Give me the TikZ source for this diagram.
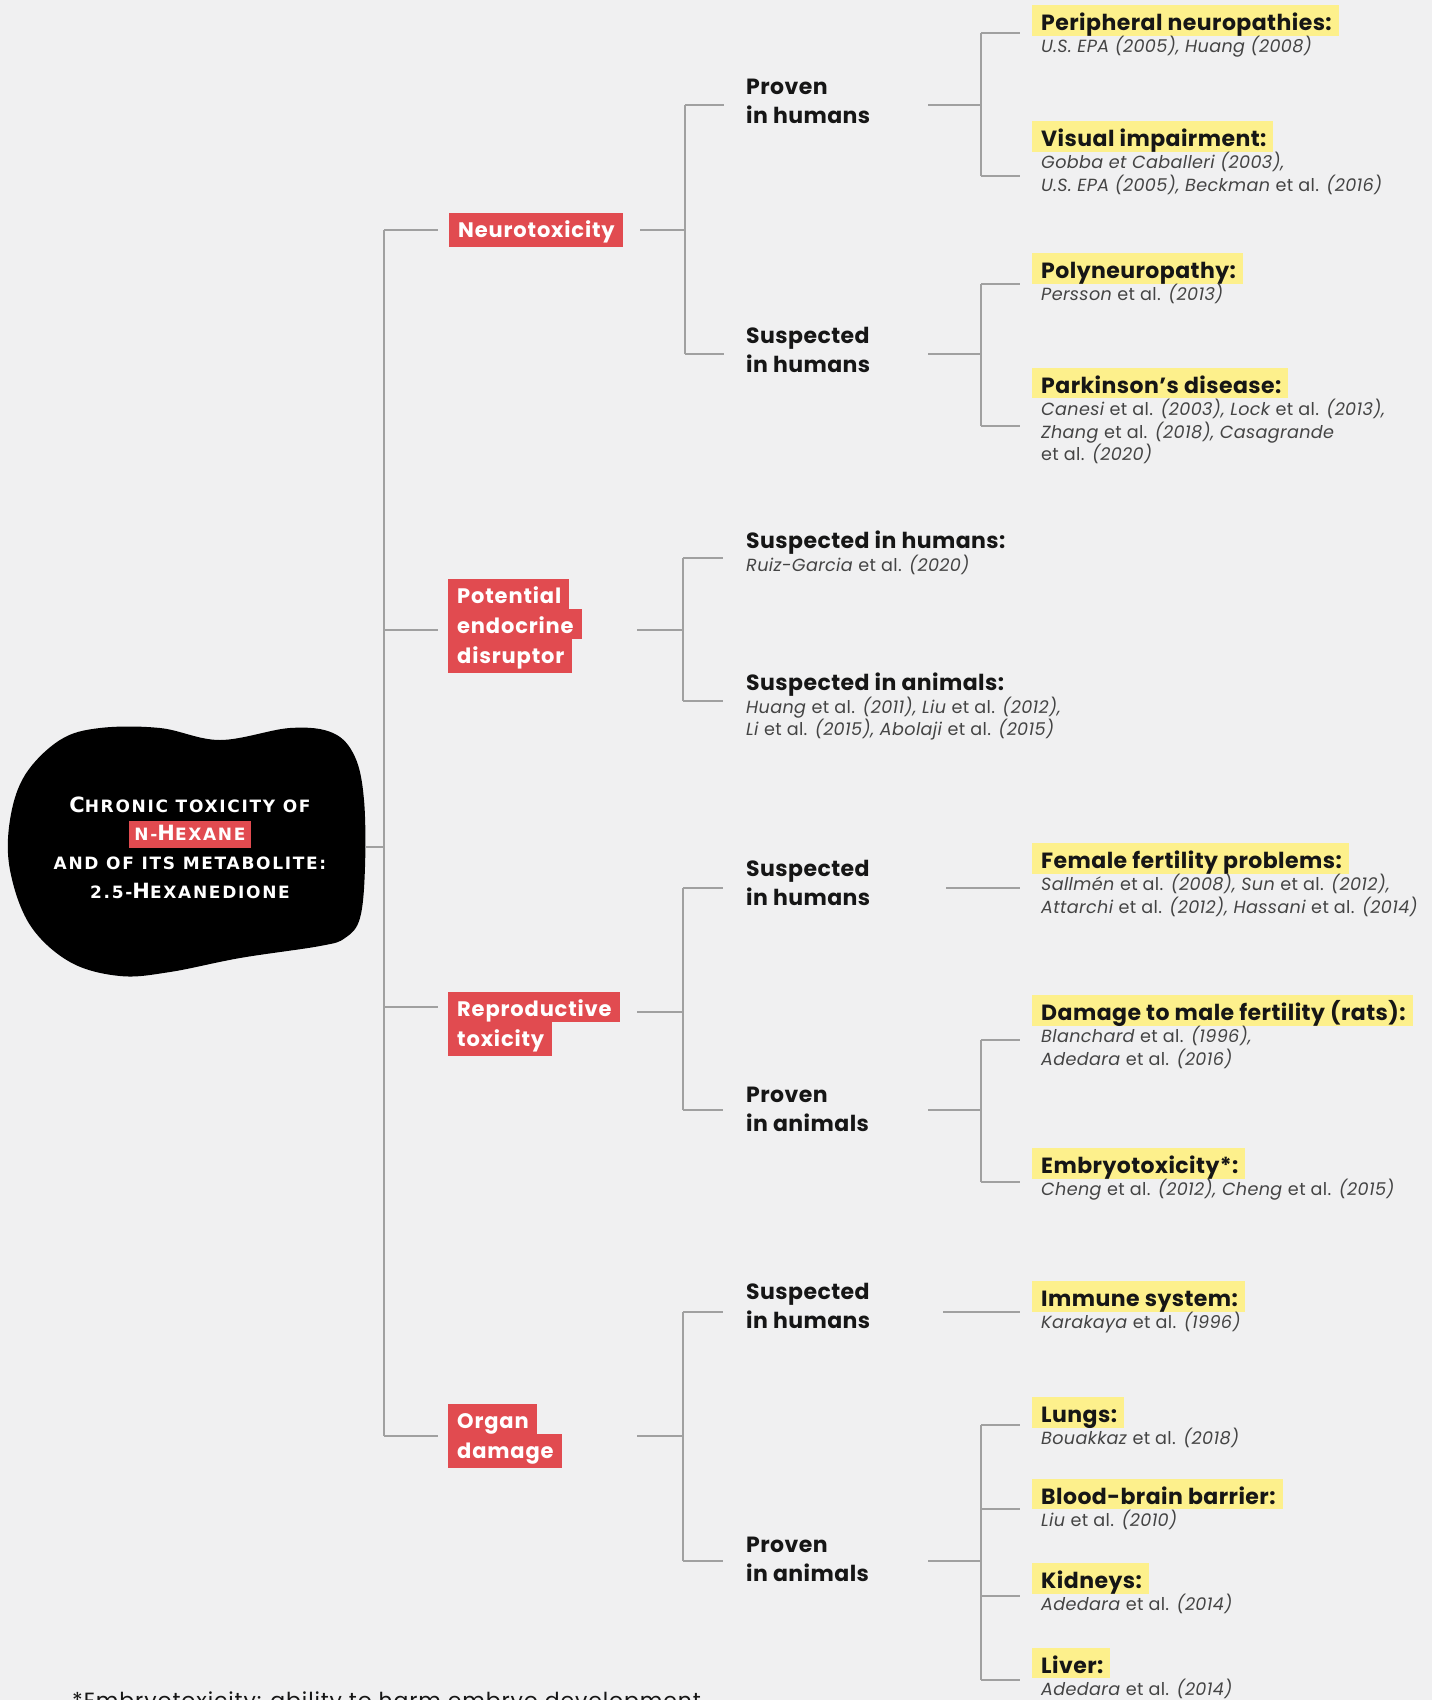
\documentclass[tikz,border=0pt]{standalone}
\usepackage{fontspec}
\setmainfont{Poppins}[LetterSpace=2]
\newfontfamily\blobfont{DejaVu Sans}[LetterSpace=10]

\definecolor{pagebg}{RGB}{240,240,241}
\definecolor{catred}{RGB}{225,75,80}
\definecolor{hlyellow}{RGB}{253,240,140}
\definecolor{linegray}{RGB}{160,160,160}
\definecolor{inkblack}{RGB}{22,22,22}
\definecolor{citegray}{RGB}{68,68,68}

\setlength{\fboxsep}{0pt}

% red category rows, stacked without gaps
\newcommand\catrow[1]{\colorbox{catred}{\rule[-6pt]{0pt}{30pt}\hspace{9pt}#1\hspace{8pt}}}
\newcommand\catend[1]{\colorbox{catred}{\rule[-10pt]{0pt}{34pt}\hspace{9pt}#1\hspace{8pt}}}
% yellow highlighted effect titles
\newcommand\hlt[1]{\colorbox{hlyellow}{\rule[-5pt]{0pt}{30pt}\hspace{9pt}\bfseries #1\hspace{7pt}}}
\newcommand\plaintitle[1]{\rule[-5pt]{0pt}{30pt}{\bfseries #1}}
% references (plain, and indented under a highlighted title)
\newcommand\refs[1]{{\color{citegray}\fontsize{17.6}{22.5}\selectfont\itshape #1}}
\newcommand\lrefs[1]{\hspace*{9pt}\refs{#1}}
\newcommand\etal{{\upshape et al.}}
\newcommand\topstrut{\rule{0pt}{20pt}}
% hand-made small capitals for the central title
\newcommand\smc[1]{{\fontsize{17}{28.7}\selectfont #1}}

\tikzset{
  link/.style={draw=linegray, line width=1.4pt},
  cat/.style={anchor=north west, inner sep=0pt, align=left, text=white,
    font=\bfseries\fontsize{21}{30}\selectfont\addfontfeature{LetterSpace=4}},
  midlabel/.style={anchor=north west, inner sep=0pt, align=left, text=inkblack,
    font=\bfseries\fontsize{22}{28.5}\selectfont},
  leaf/.style={anchor=north west, inner sep=0pt, align=left, text=inkblack,
    font=\fontsize{22}{22.5}\selectfont},
  blobtext/.style={anchor=north, inner sep=0pt, align=center, text=white,
    font=\blobfont\bfseries\fontsize{21}{28.7}\selectfont},
}

\begin{document}
\begin{tikzpicture}[x=1pt,y=-1pt]
\useasboundingbox (0,0) rectangle (1432,1700);
\clip (0,0) rectangle (1432,1700);
\fill[pagebg] (0,0) rectangle (1432,1700);

% central blob
\fill[black] plot[smooth cycle, tension=0.6] coordinates {
  (60,740) (100,728) (160,728) (220,740) (290,728) (333,733) (355,757)
  (364,800) (365,867) (360,918) (345,938) (320,946) (240,958) (170,972)
  (120,976) (70,962) (30,925) (10,870) (10,820) (25,775)};
\node[blobtext] (root) at (190,792) {\topstrut C\smc{HRONIC TOXICITY OF}\\
  \colorbox{catred}{\rule[-7pt]{0pt}{27pt}\hspace{5pt}\smc{N-}H\smc{EXANE}\hspace{5pt}}\\
  \smc{AND OF ITS METABOLITE:}\\
  \smc{2.5-}H\smc{EXANEDIONE}};

% categories
\node[cat] (neuro) at (449,213) {\catend{Neurotoxicity}};
\node[cat] (endo) at (448,579) {\catrow{Potential}\\\catrow{endocrine}\\\catend{disruptor}};
\node[cat] (repro) at (448,992) {\catrow{Reproductive}\\\catend{toxicity}};
\node[cat] (organ) at (448,1404) {\catrow{Organ}\\\catend{damage}};

% evidence level
\node[midlabel] (nPH) at (746,74.5) {\topstrut Proven\\in humans};
\node[midlabel] (nSH) at (746,323.5) {\topstrut Suspected\\in humans};
\node[leaf] (eSH) at (746,523.5) {\plaintitle{Suspected in humans:}\\\refs{Ruiz-Garcia \etal{} (2020)}};
\node[leaf] (eSA) at (746,665.5) {\plaintitle{Suspected in animals:}\\
  \refs{Huang \etal{} (2011), Liu \etal{} (2012),}\\
  \refs{Li \etal{} (2015), Abolaji \etal{} (2015)}};
\node[midlabel] (rSH) at (746,856.5) {\topstrut Suspected\\in humans};
\node[midlabel] (rPA) at (746,1082.5) {\topstrut Proven\\in animals};
\node[midlabel] (oSH) at (746,1279.5) {\topstrut Suspected\\in humans};
\node[midlabel] (oPA) at (746,1532.5) {\topstrut Proven\\in animals};

% effects
\node[leaf] (peri) at (1032,5) {\hlt{Peripheral neuropathies:}\\\lrefs{U.S. EPA (2005), Huang (2008)}};
\node[leaf] (vis) at (1032,121) {\hlt{Visual impairment:}\\\lrefs{Gobba et Caballeri (2003),}\\
  \lrefs{U.S. EPA (2005), Beckman \etal{} (2016)}};
\node[leaf] (poly) at (1032,253) {\hlt{Polyneuropathy:}\\\lrefs{Persson \etal{} (2013)}};
\node[leaf] (park) at (1032,368) {\hlt{Parkinson's disease:}\\
  \lrefs{Canesi \etal{} (2003), Lock \etal{} (2013),}\\
  \lrefs{Zhang \etal{} (2018), Casagrande}\\
  \lrefs{\etal{} (2020)}};
\node[leaf] (fem) at (1032,843) {\hlt{Female fertility problems:}\\
  \lrefs{Sallmén \etal{} (2008), Sun \etal{} (2012),}\\
  \lrefs{Attarchi \etal{} (2012), Hassani \etal{} (2014)}};
\node[leaf] (dmg) at (1032,995) {\hlt{Damage to male fertility (rats):}\\
  \lrefs{Blanchard \etal{} (1996),}\\
  \lrefs{Adedara \etal{} (2016)}};
\node[leaf] (emb) at (1032,1148) {\hlt{Embryotoxicity*:}\\\lrefs{Cheng \etal{} (2012), Cheng \etal{} (2015)}};
\node[leaf] (imm) at (1032,1281) {\hlt{Immune system:}\\\lrefs{Karakaya \etal{} (1996)}};
\node[leaf] (lung) at (1032,1397) {\hlt{Lungs:}\\\lrefs{Bouakkaz \etal{} (2018)}};
\node[leaf] (bbb) at (1032,1479) {\hlt{Blood-brain barrier:}\\\lrefs{Liu \etal{} (2010)}};
\node[leaf] (kid) at (1032,1563) {\hlt{Kidneys:}\\\lrefs{Adedara \etal{} (2014)}};
\node[leaf] (liv) at (1032,1648) {\hlt{Liver:}\\\lrefs{Adedara \etal{} (2014)}};

% footnote
\node[anchor=base west, inner sep=0pt, text=inkblack,
  font=\fontsize{22}{25}\selectfont\addfontfeature{LetterSpace=4}]
  (note) at (72,1708) {*Embryotoxicity: ability to harm embryo development};

% connector end points and bar positions
\coordinate (rootOut) at (365,847);
\coordinate (rootBar) at (384,0);
\coordinate (neuroIn) at (438,230);  \coordinate (neuroOut) at (640,230);
\coordinate (endoIn)  at (438,630);  \coordinate (endoOut)  at (637,630);
\coordinate (reproIn) at (438,1007); \coordinate (reproOut) at (637,1012);
\coordinate (organIn) at (438,1436); \coordinate (organOut) at (637,1436);
\coordinate (neuroBar) at (685,0);
\coordinate (endoBar)  at (683,0);
\coordinate (reproBar) at (683,0);
\coordinate (organBar) at (683,0);
\coordinate (nPHin) at (724,105);  \coordinate (nPHout) at (928,105);
\coordinate (nSHin) at (724,354);  \coordinate (nSHout) at (928,354);
\coordinate (eSHin) at (723,558);
\coordinate (eSAin) at (723,701);
\coordinate (rSHin) at (723,888);  \coordinate (rSHout) at (946,888);
\coordinate (rPAin) at (723,1110); \coordinate (rPAout) at (928,1110);
\coordinate (oSHin) at (723,1312); \coordinate (oSHout) at (943,1312);
\coordinate (oPAin) at (723,1561); \coordinate (oPAout) at (928,1561);
\coordinate (leafBar) at (981,0);
\coordinate (periIn) at (1020,33);
\coordinate (visIn)  at (1020,176);
\coordinate (polyIn) at (1020,284);
\coordinate (parkIn) at (1020,426);
\coordinate (femIn)  at (1020,888);
\coordinate (dmgIn)  at (1020,1040);
\coordinate (embIn)  at (1020,1182);
\coordinate (immIn)  at (1020,1312);
\coordinate (lungIn) at (1020,1425);
\coordinate (bbbIn)  at (1020,1509);
\coordinate (kidIn)  at (1020,1596);
\coordinate (livIn)  at (1020,1680);

% root to categories
\draw[link] (rootOut) -- (rootOut -| rootBar);
\draw[link] (neuroIn -| rootBar) -- (organIn -| rootBar);
\foreach \c in {neuroIn,endoIn,reproIn,organIn} \draw[link] (\c -| rootBar) -- (\c);

% categories to evidence levels
\draw[link] (neuroOut) -- (neuroOut -| neuroBar);
\draw[link] (nPHin -| neuroBar) -- (nSHin -| neuroBar);
\foreach \c in {nPHin,nSHin} \draw[link] (\c -| neuroBar) -- (\c);

\draw[link] (endoOut) -- (endoOut -| endoBar);
\draw[link] (eSHin -| endoBar) -- (eSAin -| endoBar);
\foreach \c in {eSHin,eSAin} \draw[link] (\c -| endoBar) -- (\c);

\draw[link] (reproOut) -- (reproOut -| reproBar);
\draw[link] (rSHin -| reproBar) -- (rPAin -| reproBar);
\foreach \c in {rSHin,rPAin} \draw[link] (\c -| reproBar) -- (\c);

\draw[link] (organOut) -- (organOut -| organBar);
\draw[link] (oSHin -| organBar) -- (oPAin -| organBar);
\foreach \c in {oSHin,oPAin} \draw[link] (\c -| organBar) -- (\c);

% evidence levels to effects
\draw[link] (nPHout) -- (nPHout -| leafBar);
\draw[link] (periIn -| leafBar) -- (visIn -| leafBar);
\foreach \c in {periIn,visIn} \draw[link] (\c -| leafBar) -- (\c);

\draw[link] (nSHout) -- (nSHout -| leafBar);
\draw[link] (polyIn -| leafBar) -- (parkIn -| leafBar);
\foreach \c in {polyIn,parkIn} \draw[link] (\c -| leafBar) -- (\c);

\draw[link] (rSHout) -- (femIn);

\draw[link] (rPAout) -- (rPAout -| leafBar);
\draw[link] (dmgIn -| leafBar) -- (embIn -| leafBar);
\foreach \c in {dmgIn,embIn} \draw[link] (\c -| leafBar) -- (\c);

\draw[link] (oSHout) -- (immIn);

\draw[link] (oPAout) -- (oPAout -| leafBar);
\draw[link] (lungIn -| leafBar) -- (livIn -| leafBar);
\foreach \c in {lungIn,bbbIn,kidIn,livIn} \draw[link] (\c -| leafBar) -- (\c);
\end{tikzpicture}
\end{document}
